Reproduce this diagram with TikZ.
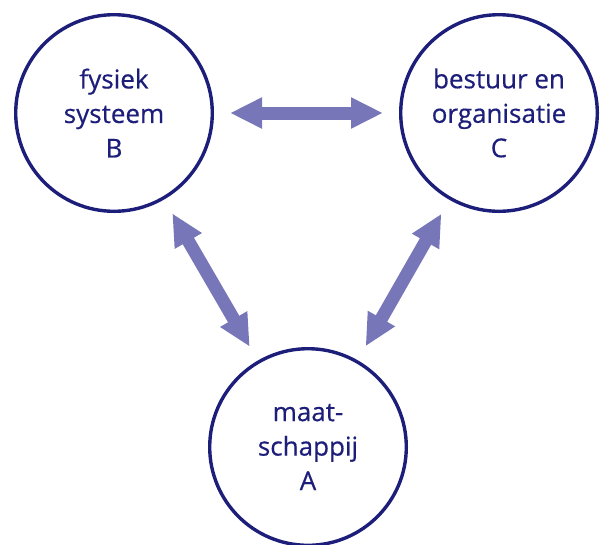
\documentclass[tikz,border=0pt]{standalone}
\usepackage{fontspec}
\setmainfont{Open Sans}[FakeBold=0.5]
\usetikzlibrary{arrows.meta}

\definecolor{navy}{RGB}{28,30,122}
\definecolor{lilac}{RGB}{118,118,184}

\begin{document}
\begin{tikzpicture}[x=1pt,y=-1pt]
      \def\gap{16pt}
      \tikzset{
        field/.style={draw=navy, line width=3.4pt, circle, minimum size=196.6pt, inner sep=0pt,
          text=navy, align=center, font=\fontsize{26}{34.5}\selectfont},
        link/.style={lilac, line width=13pt,
          {Triangle[length=32pt,width=29pt]}-{Triangle[length=32pt,width=29pt]},
          shorten <=\gap, shorten >=\gap}
      }

      \useasboundingbox (0,0) rectangle (601,544);

      \node[field] (B) at (114,113) {fysiek\\systeem\\B};
      \node[field] (C) at (499,113) {bestuur en\\organisatie\\C};
      \node[field] (A) at (308,447) {maat-\\schappij\\A};

      \draw[link] (B) -- (C);
      \draw[link] (B) -- (A);
      \draw[link] (C) -- (A);

    \end{tikzpicture}
\end{document}
